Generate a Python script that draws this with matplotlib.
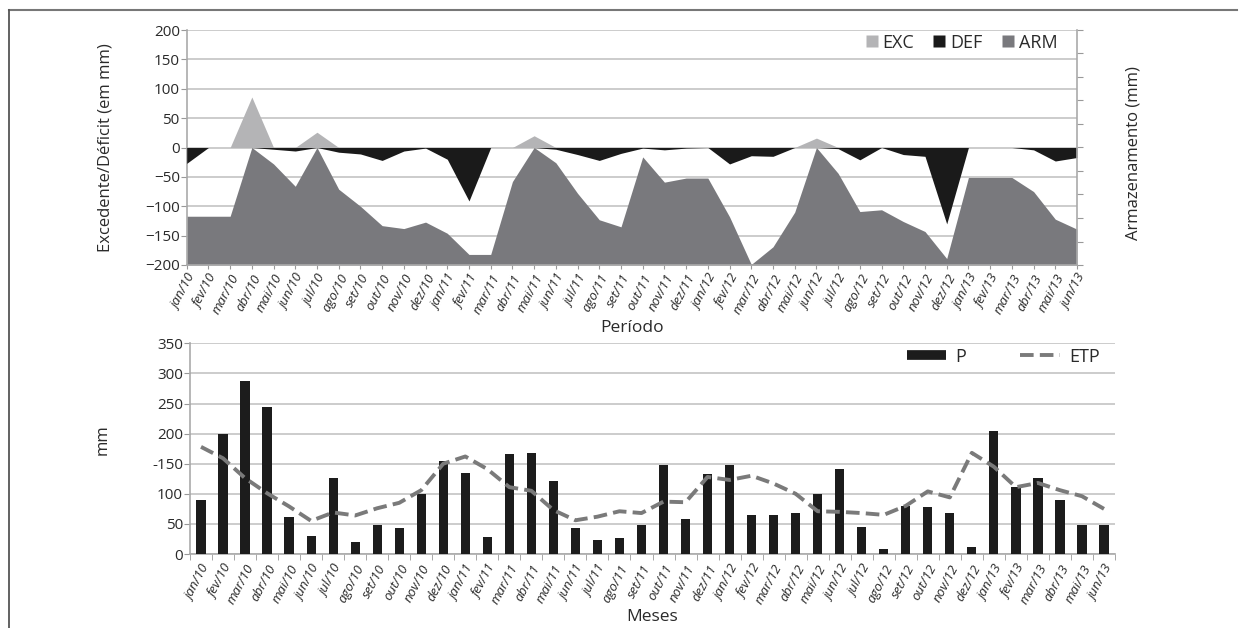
import numpy as np
import matplotlib.pyplot as plt
from matplotlib.lines import Line2D

plt.rcParams['font.family'] = ['Open Sans', 'DejaVu Sans']

nomes = ['jan', 'fev', 'mar', 'abr', 'mai', 'jun', 'jul', 'ago', 'set', 'out', 'nov', 'dez']
meses = [m + '/' + a for a in ['10', '11', '12', '13'] for m in nomes][:42]

# balanço hídrico (mm)
exc = [0, 0, 0, 86, 0, 0, 26, 0, 0, 0, 0, 0,
       0, 0, 0, 0, 20, 0, 0, 0, 0, 0, 0, 0,
       0, 0, 0, 0, 0, 16, 0, 0, 0, 0, 0, 0,
       0, 0, 0, 0, 0, 0]
dfc = [-27, 0, 0, 0, -3, -6, 0, -8, -11, -22, -6, -1,
       -20, -91, 0, 0, 0, -3, -12, -22, -10, -1, -4, -1,
       0, -28, -14, -15, 0, 0, -2, -21, 0, -12, -15, -130,
       0, 0, 0, -4, -23, -17]
arm = [-117, -117, -117, 0, -28, -66, 0, -71, -100, -133, -138, -127,
       -146, -182, -182, -58, 0, -26, -78, -123, -135, -16, -59, -52,
       -52, -118, -199, -169, -110, 0, -44, -109, -106, -126, -143, -189,
       -51, -51, -51, -75, -122, -139]

# precipitação e evapotranspiração (mm)
p = [90, 200, 288, 244, 62, 30, 127, 20, 49, 44, 100, 154,
     135, 29, 166, 168, 122, 43, 24, 27, 49, 148, 58, 133,
     148, 65, 64, 68, 100, 141, 45, 9, 80, 78, 68, 11,
     205, 111, 127, 90, 49, 49]
etp = [178, 159, 126, 101, 79, 55, 69, 64, 76, 85, 106, 150,
       162, 141, 111, 105, 73, 56, 62, 71, 68, 87, 86, 128,
       123, 130, 117, 100, 71, 70, 68, 65, 80, 104, 94, 168,
       145, 111, 118, 106, 96, 75]

c_exc = '#b4b4b6'
c_def = '#1a1a1a'
c_arm = '#79797d'
c_grid = '#c4c4c4'
c_txt = '#2a2a2a'

W, H = 1246, 628
fig = plt.figure(figsize=(W / 100, H / 100), dpi=100)

x = np.arange(len(meses))

# ---- top chart
ax = fig.add_axes([186.7 / W, 1 - 265 / H, (1077 - 186.7) / W, (265 - 30) / H])
ax.fill_between(x, -200, arm, color=c_arm, lw=0, zorder=2)
ax.fill_between(x, 0, dfc, color=c_def, lw=0, zorder=3)
ax.fill_between(x, 0, exc, color=c_exc, lw=0, zorder=3)
ax.set_xlim(0, len(meses) - 1)
ax.set_ylim(-200, 200)
ax.set_yticks(np.arange(-200, 201, 50))
ax.yaxis.grid(True, color=c_grid, lw=1.2)
ax.set_axisbelow(True)
ax.set_xticks(x)
ax.set_xticklabels(meses, rotation=62, ha='right', rotation_mode='anchor',
                   fontsize=9.5, color=c_txt, style='italic')
ax.tick_params(axis='x', length=3, color='#999999', pad=2)
ax.tick_params(axis='y', length=4, color='#999999', labelsize=11, labelcolor=c_txt, pad=1)
for s in ['top', 'right']:
    ax.spines[s].set_visible(False)
for s in ['left', 'bottom']:
    ax.spines[s].set_color('#aaaaaa')
    ax.spines[s].set_linewidth(1.2)

ax2 = ax.twinx()
ax2.set_ylim(0, 10)
ax2.set_yticks(np.arange(0, 11))
ax2.set_yticklabels([])
ax2.tick_params(axis='y', length=4, color='#999999')
for s in ['top', 'left', 'bottom']:
    ax2.spines[s].set_visible(False)
ax2.spines['right'].set_color('#aaaaaa')
ax2.spines['right'].set_linewidth(1.2)

hs = [Line2D([], [], ls='none', marker='s', ms=8, mec='none', mfc=c) for c in [c_exc, c_def, c_arm]]
ax.legend(hs, ['EXC', 'DEF', 'ARM'], loc='upper right', ncol=3, frameon=False,
          fontsize=13, handletextpad=0.0, columnspacing=0.8, handlelength=1.2,
          borderaxespad=0.2, bbox_to_anchor=(0.99, 1.03), labelcolor=c_txt)

fig.text(105 / W, 1 - 148 / H, 'Excedente/Déficit (em mm)', rotation=90,
         ha='center', va='center', fontsize=12, color=c_txt)
fig.text(1134 / W, 1 - 153 / H, 'Armazenamento (mm)', rotation=90,
         ha='center', va='center', fontsize=12, color=c_txt)
fig.text(632 / W, 1 - 328 / H, 'Período', ha='center', va='center', fontsize=12.5, color=c_txt)

# ---- bottom chart
bx = fig.add_axes([190 / W, 1 - 554 / H, (1115 - 190) / W, (554 - 343.3) / H])
bx.bar(x, p, width=0.42, color='#1c1c1c', zorder=3)
bx.plot(x, etp, color='#7a7a7a', lw=2.8, dashes=(3.5, 1.6), zorder=4)
bx.set_xlim(-0.5, len(meses) - 0.5)
bx.set_ylim(0, 350)
bx.set_yticks(np.arange(0, 351, 50))
bx.set_yticklabels(['0', '50', '100', '-150', '200', '250', '300', '350'])
bx.yaxis.grid(True, color=c_grid, lw=1.2)
bx.set_axisbelow(True)
bx.set_xticks(x)
bx.set_xticklabels(meses, rotation=62, ha='right', rotation_mode='anchor',
                   fontsize=9.5, color=c_txt, style='italic')
bx.set_xticks(np.arange(-0.5, len(meses)), minor=True)
bx.tick_params(axis='x', which='major', length=0, pad=6)
bx.tick_params(axis='x', which='minor', length=4, color='#999999')
bx.tick_params(axis='y', length=4, color='#999999', labelsize=11, labelcolor=c_txt, pad=1)
for s in ['top', 'right']:
    bx.spines[s].set_visible(False)
for s in ['left', 'bottom']:
    bx.spines[s].set_color('#aaaaaa')
    bx.spines[s].set_linewidth(1.2)

hb = [Line2D([], [], color='#1c1c1c', lw=7, solid_capstyle='butt'),
      Line2D([], [], color='#7a7a7a', lw=2.8, dashes=(3.5, 1.6))]
bx.legend(hb, ['P', 'ETP'], loc='upper right', ncol=2, frameon=False,
          fontsize=13, handlelength=2.2, handletextpad=0.5, columnspacing=3.0,
          borderaxespad=0.2, bbox_to_anchor=(0.995, 1.03), labelcolor=c_txt)

fig.text(103 / W, 1 - 440 / H, 'mm', rotation=90, ha='center', va='center',
         fontsize=12, color=c_txt)
fig.text(652 / W, 1 - 617 / H, 'Meses', ha='center', va='center', fontsize=12.5, color=c_txt)

# moldura
fig.add_artist(Line2D([9 / W, 1237 / W], [1 - 10 / H, 1 - 10 / H], color='#777777', lw=1.5))
fig.add_artist(Line2D([9 / W, 9 / W], [0, 1 - 10 / H], color='#555555', lw=1.3))

fig.savefig('out.png', dpi=100)
